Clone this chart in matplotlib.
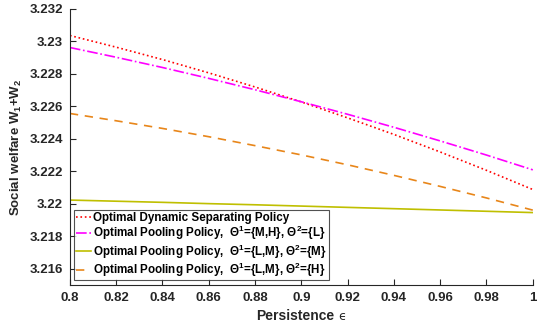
import numpy as np
import matplotlib.pyplot as plt

plt.rcParams['font.family'] = ['Liberation Sans', 'DejaVu Sans']
plt.rcParams['font.weight'] = 'bold'
plt.rcParams['mathtext.fontset'] = 'custom'
plt.rcParams['mathtext.rm'] = 'Liberation Sans:bold'
plt.rcParams['mathtext.it'] = 'Liberation Sans:italic'

# persistence grid and welfare of each policy
eps = [0.80, 0.82, 0.84, 0.86, 0.88, 0.90, 0.92, 0.94, 0.96, 0.98, 1.00]
w_separating = [3.23036, 3.22964, 3.22888, 3.22806, 3.22719, 3.22627,
                3.22529, 3.22427, 3.22319, 3.22206, 3.22088]
w_pool_mh_l = [3.22962, 3.22902, 3.22839, 3.22772, 3.22702, 3.22628,
               3.22551, 3.22471, 3.22387, 3.22300, 3.22209]
w_pool_lm_m = [3.22023, 3.22016, 3.22009, 3.22001, 3.21994, 3.21986,
               3.21978, 3.21970, 3.21962, 3.21954, 3.21946]
w_pool_lm_h = [3.22556, 3.22511, 3.22464, 3.22413, 3.22358, 3.22301,
               3.22240, 3.22175, 3.22107, 3.22036, 3.21961]

labels = [
    'Optimal Dynamic Separating Policy',
    r'Optimal Pooling Policy,  $\Theta^1$={M,H}, $\Theta^2$={L}',
    r'Optimal Pooling Policy,  $\Theta^1$={L,M}, $\Theta^2$={M}',
    r'Optimal Pooling Policy,  $\Theta^1$={L,M}, $\Theta^2$={H}',
]

fig = plt.figure(figsize=(5.42, 3.28), dpi=100)
ax = fig.add_axes([0.129, 0.131, 0.854, 0.842])

ax.plot(eps, w_separating, ':', color='#ff0000', lw=1.2, label=labels[0])
ax.plot(eps, w_pool_mh_l, '-.', color='#ff00ff', lw=1.2, label=labels[1])
ax.plot(eps, w_pool_lm_m, '-', color='#bfbf00', lw=1.2, label=labels[2])
ax.plot(eps, w_pool_lm_h, '--', color='#e8861a', lw=1.2, label=labels[3],
        dashes=(5, 4))

ax.set_xlim(0.8, 1.0)
ax.set_ylim(3.215, 3.232)
ax.set_xticks(np.arange(0.8, 1.001, 0.02))
ax.set_xticklabels(['0.8', '0.82', '0.84', '0.86', '0.88', '0.9',
                    '0.92', '0.94', '0.96', '0.98', '1'])
ax.set_yticks([3.216, 3.218, 3.22, 3.222, 3.224, 3.226, 3.228, 3.23, 3.232])
ax.set_yticklabels(['3.216', '3.218', '3.22', '3.222', '3.224', '3.226',
                    '3.228', '3.23', '3.232'])
ax.tick_params(direction='in', length=4, width=0.8, labelsize=9.5,
               colors='#262626', pad=5)
for s in ['top', 'right']:
    ax.spines[s].set_visible(False)
for s in ['left', 'bottom']:
    ax.spines[s].set_color('#262626')
    ax.spines[s].set_linewidth(0.8)

# x label: bold word plus a small upright epsilon next to it
ax.set_xlabel('Persistence', fontsize=10, fontweight='bold',
              color='#262626', labelpad=3)
ax.xaxis.set_label_coords(0.487, -0.085)
ax.text(0.579, -0.127, '\u03f5', transform=ax.transAxes, fontsize=9,
        fontweight='normal', color='#262626', ha='left', va='baseline',
        family='DejaVu Sans')
ax.set_ylabel(r'Social welfare W$_1$+W$_2$', fontsize=9.5, fontweight='bold',
              color='#262626', labelpad=4)

leg = ax.legend(loc='lower left', bbox_to_anchor=(0.004, 0.008), fontsize=8.4,
                frameon=True, fancybox=False, handlelength=1.3,
                handletextpad=0.15, borderpad=0.15, labelspacing=0.0,
                borderaxespad=0.2)
leg.get_frame().set_edgecolor('#262626')
leg.get_frame().set_linewidth(0.8)

fig.savefig('out.png', dpi=100)
